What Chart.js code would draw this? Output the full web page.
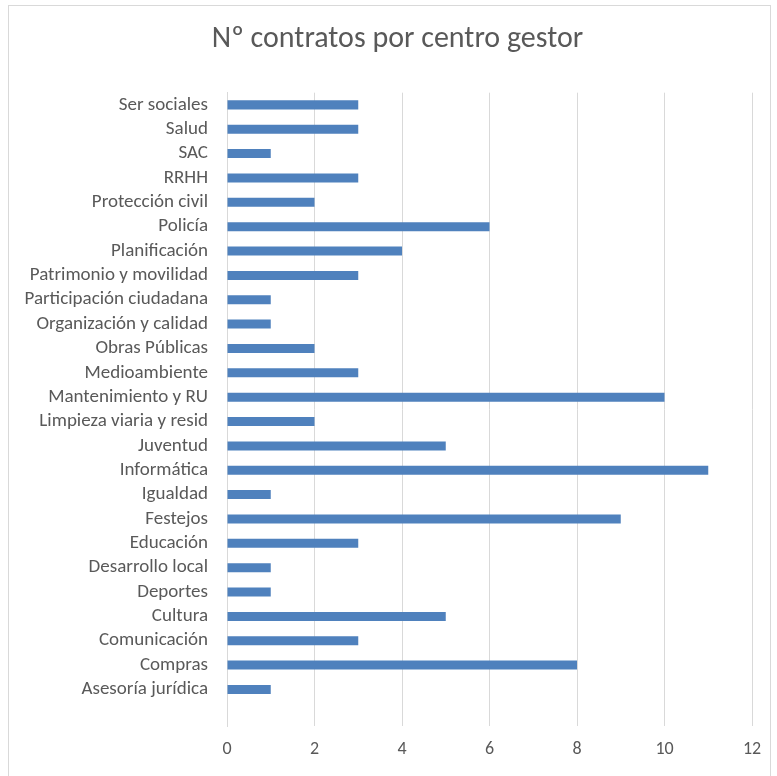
<!DOCTYPE html>
<html>
<head>
<meta charset="utf-8">
<script src="https://cdn.jsdelivr.net/npm/chart.js@4/dist/chart.umd.min.js"></script>
<style>
html,body{margin:0;padding:0;background:#fff;}
#wrap{position:relative;width:777px;height:776px;overflow:hidden;}
#frame{position:absolute;left:8px;top:5px;width:763px;height:790px;border:1px solid #d9d9d9;box-sizing:border-box;}
canvas{position:absolute;left:0;top:0;}
</style>
</head>
<body>
<div id="wrap">
<div id="frame"></div>
<canvas id="c" width="777" height="776"></canvas>
</div>
<script>
const chartTitle = "Nº contratos por centro gestor";
const categories = [
  "Ser sociales","Salud","SAC","RRHH","Protección civil","Policía","Planificación",
  "Patrimonio y movilidad","Participación ciudadana","Organización y calidad","Obras Públicas",
  "Medioambiente","Mantenimiento y RU","Limpieza viaria y resid","Juventud","Informática",
  "Igualdad","Festejos","Educación","Desarrollo local","Deportes","Cultura","Comunicación",
  "Compras","Asesoría jurídica",""
];
const contracts = [3,3,1,3,2,6,4,3,1,1,2,3,10,2,5,11,1,9,3,1,1,5,3,8,1,null];
const xTicks = [0,2,4,6,8,10,12];

const fontFam = "Carlito, Lato, 'Liberation Sans', sans-serif";
const textColor = "#595959";

const titlePlugin = {
  id: 'offsetTitle',
  afterDraw(chart) {
    const ctx = chart.ctx;
    ctx.save();
    ctx.fillStyle = textColor;
    ctx.font = "30px " + fontFam;
    ctx.textAlign = 'center';
    ctx.textBaseline = 'middle';
    ctx.fillText(chartTitle, 397.5, 39);
    ctx.restore();
  }
};

new Chart(document.getElementById('c'), {
  type: 'bar',
  data: {
    labels: categories,
    datasets: [{
      data: contracts,
      backgroundColor: '#4f81bd',
      borderWidth: 0,
      categoryPercentage: 1,
      barPercentage: 0.37
    }]
  },
  plugins: [titlePlugin],
  options: {
    indexAxis: 'y',
    responsive: false,
    maintainAspectRatio: false,
    animation: false,
    layout: { padding: { left: 0, right: 25, top: 92.7, bottom: 0 } },
    plugins: {
      legend: { display: false },
      tooltip: { enabled: false },
      title: { display: false }
    },
    scales: {
      x: {
        min: 0, max: 12,
        afterBuildTicks: (s) => { s.ticks = xTicks.map(v => ({ value: v })); },
        grid: { color: '#d9d9d9', lineWidth: 1, drawTicks: false },
        border: { display: false },
        ticks: { color: textColor, font: { family: fontFam, size: 18 }, padding: 13 },
        afterFit: (s) => { s.height = 50; }
      },
      y: {
        grid: { display: false, drawTicks: false },
        border: { display: true, color: '#d9d9d9', width: 1 },
        ticks: { color: textColor, font: { family: fontFam, size: 19 }, padding: 19, autoSkip: false },
        afterFit: (s) => { s.width = 227; }
      }
    }
  }
});
</script>
</body>
</html>
